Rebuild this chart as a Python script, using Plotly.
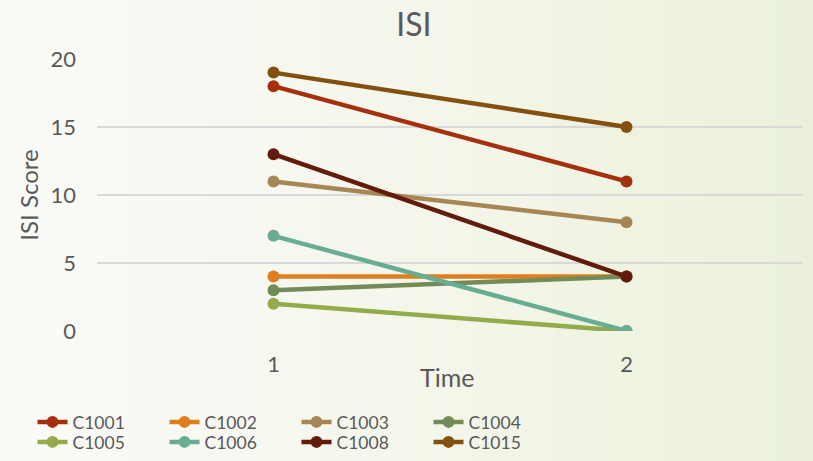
import plotly.graph_objects as go

times = ["1", "2"]
series_names = ["C1001", "C1002", "C1003", "C1004", "C1005", "C1006", "C1008", "C1015"]
C1001 = [18, 11]
C1002 = [4, 4]
C1003 = [11, 8]
C1004 = [3, 4]
C1005 = [2, 0]
C1006 = [7, 0]
C1008 = [13, 4]
C1015 = [19, 15]
series_values = [C1001, C1002, C1003, C1004, C1005, C1006, C1008, C1015]
colors = ["#A5300F", "#E07E1D", "#A58654", "#738B56", "#94AB4C", "#68AD93", "#631C0A", "#84500F"]
y_ticks = [0, 5, 10, 15, 20]

W, H = 813, 461
ML, MR, MT, MB = 97, 10, 59, 130
PW = W - ML - MR
PH = H - MT - MB
TXT = "#595959"
FONT = "Lato, 'Open Sans', sans-serif"

fig = go.Figure()
for i, (name, vals, col) in enumerate(zip(series_names, series_values, colors)):
    fig.add_trace(go.Scatter(
        x=times, y=vals, name=name, mode="lines+markers",
        line=dict(color=col, width=4.5),
        marker=dict(color=col, size=12),
        legend="legend" if i < 4 else "legend2",
    ))

# background gradient (white-ish left to pale green right)
n = 60
c0 = (250, 250, 247)
c1 = (235, 241, 218)
shapes = []
for i in range(n):
    t = i / (n - 1)
    tt = t ** 1.3
    c = tuple(round(c0[k] + (c1[k] - c0[k]) * tt) for k in range(3))
    x0 = -ML / PW + (W / PW) * i / n
    x1 = -ML / PW + (W / PW) * (i + 1) / n + 0.002
    shapes.append(dict(type="rect", xref="paper", yref="paper", x0=x0, x1=x1,
                       y0=-MB / PH - 0.01, y1=1 + MT / PH + 0.01,
                       fillcolor="rgb(%d,%d,%d)" % c, line=dict(width=0), layer="below"))

leg_common = dict(orientation="h", xref="container", yref="container", x=0.04,
                  yanchor="middle", xanchor="left", entrywidth=87, entrywidthmode="pixels",
                  font=dict(size=17.5, color=TXT), bgcolor="rgba(0,0,0,0)", itemwidth=30)

fig.update_layout(
    width=W, height=H,
    margin=dict(l=ML, r=MR, t=MT, b=MB),
    paper_bgcolor="#FAFAF7",
    plot_bgcolor="rgba(0,0,0,0)",
    shapes=shapes,
    font=dict(family=FONT, color=TXT, size=18),
    title=dict(text="ISI", x=0.509, xref="container", y=1 - 25 / H, yref="container",
               yanchor="middle", xanchor="center", font=dict(size=32, color=TXT)),
    xaxis=dict(type="category", range=[-0.5, 1.5], showgrid=False, zeroline=False,
               showline=False, ticks="", tickfont=dict(size=22, color=TXT),
               ticklabelstandoff=18),
    yaxis=dict(range=[0, 20], tickvals=y_ticks, showgrid=True, gridcolor="#D9D9D9",
               gridwidth=1.5, zeroline=False, showline=False, ticks="",
               tickfont=dict(size=22, color=TXT), ticklabelstandoff=20,
               title=dict(text="ISI Score", font=dict(size=24, color=TXT), standoff=5)),
    legend=dict(leg_common, y=1 - 422 / H),
    legend2=dict(leg_common, y=1 - 442 / H),
    annotations=[dict(text="Time", xref="paper", yref="paper", x=(447 - ML) / PW,
                      y=-(377 - (H - MB)) / PH, showarrow=False,
                      xanchor="center", yanchor="middle", font=dict(size=25, color=TXT))],
    showlegend=True,
)

fig.write_html("out.html", config={"displayModeBar": False},
               post_script="document.body.style.margin='0';document.body.style.overflow='hidden';")
